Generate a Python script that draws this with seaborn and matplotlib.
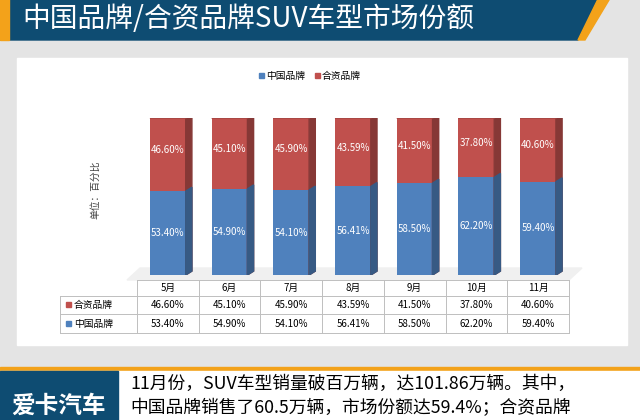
import matplotlib
matplotlib.use("Agg")
import matplotlib.pyplot as plt
import seaborn as sns
import numpy as np
import pandas as pd
from matplotlib.patches import Rectangle, Polygon

plt.rcParams["font.family"] = "Noto Sans CJK SC"

months = ["5月", "6月", "7月", "8月", "9月", "10月", "11月"]
china = [53.40, 54.90, 54.10, 56.41, 58.50, 62.20, 59.40]
joint = [46.60, 45.10, 45.90, 43.59, 41.50, 37.80, 40.60]
china_lbl = ["53.40%", "54.90%", "54.10%", "56.41%", "58.50%", "62.20%", "59.40%"]
joint_lbl = ["46.60%", "45.10%", "45.90%", "43.59%", "41.50%", "37.80%", "40.60%"]
series = ["中国品牌", "合资品牌"]

BLUE, RED = "#4f81bd", "#c0504d"
W, H = 640, 420
fig = plt.figure(figsize=(6.4, 4.2), dpi=100)
fig.patch.set_facecolor("#e4e4e4")

def fx(px): return px / W
def fy(py): return 1 - py / H

bg = fig.add_axes([0, 0, 1, 1]); bg.set_xlim(0, W); bg.set_ylim(H, 0); bg.axis("off")
# banner
bg.add_patch(Polygon([[0, -5], [600, -5], [578, 40], [0, 40]], color="#0e4c72"))
bg.add_patch(Polygon([[600, -5], [612, -5], [585, 40], [578, 40]], color="#f3a21a"))
bg.add_patch(Rectangle((0, -5), 9, 45, color="#f3a21a"))
bg.text(22, 19, "中国品牌/合资品牌SUV车型市场份额", color="white", fontsize=20, va="center")
# white panel
bg.add_patch(Rectangle((17, 58), 610, 287, color="white"))
# bottom
bg.add_patch(Rectangle((0, 367), W, 4, color="#f3a21a"))
bg.add_patch(Rectangle((0, 371), W, 50, color="white"))
bg.add_patch(Rectangle((0, 371), 118, 50, color="#0e4c72"))
bg.text(58, 406, "爱卡汽车", color="white", fontsize=17, weight="bold", ha="center", va="center")
bg.text(130, 384, "11月份，SUV车型销量破百万辆，达101.86万辆。其中，", fontsize=12.8, va="center")
bg.text(130, 408, "中国品牌销售了60.5万辆，市场份额达59.4%；合资品牌", fontsize=12.8, va="center")
# legend
bg.add_patch(Rectangle((259, 73), 5, 5, color=BLUE))
bg.text(266, 76, "中国品牌", fontsize=7, va="center")
bg.add_patch(Rectangle((315, 73), 5, 5, color=RED))
bg.text(322, 76, "合资品牌", fontsize=7, va="center")
bg.text(95, 190, "单位：百分比", fontsize=7, rotation=90, va="center", ha="center", color="#404040")
# floor
bg.add_patch(Polygon([[127, 280], [569, 280], [582, 268], [140, 268]], color="#f0f0f0"))

# table
x0, cw = 137, 61.7
rows_y = [280, 296, 314, 333]
for y in rows_y:
    bg.plot([x0 if y == 280 else 60, x0 + 7 * cw], [y, y], color="#bfbfbf", lw=0.7)
for i in range(8):
    bg.plot([x0 + i * cw] * 2, [280, 333], color="#bfbfbf", lw=0.7)
bg.plot([60, 60], [296, 333], color="#bfbfbf", lw=0.7)
for i, m in enumerate(months):
    cx = x0 + (i + 0.5) * cw
    bg.text(cx, 288, m, fontsize=7, ha="center", va="center")
    bg.text(cx, 305, joint_lbl[i], fontsize=7, ha="center", va="center")
    bg.text(cx, 324, china_lbl[i], fontsize=7, ha="center", va="center")
bg.add_patch(Rectangle((66, 302), 5, 5, color=RED))
bg.text(74, 305, "合资品牌", fontsize=7, va="center")
bg.add_patch(Rectangle((66, 321), 5, 5, color=BLUE))
bg.text(74, 324, "中国品牌", fontsize=7, va="center")

# chart
ax = fig.add_axes([fx(x0), fy(275), fx(7 * cw), 157 / H])
df = pd.DataFrame({"month": months, "china": china, "total": np.array(china) + np.array(joint)})
sns.barplot(data=df, x="month", y="total", color=RED, saturation=1, width=0.58, ax=ax)
sns.barplot(data=df, x="month", y="china", color=BLUE, saturation=1, width=0.58, ax=ax)
ax.set_xlim(-0.5, 6.5); ax.set_ylim(0, 100)
ax.axis("off")
# pseudo 3D faces
dx, dy = 0.1, 2.5
for p in ax.patches[:]:
    x, y, w, h = p.get_x(), p.get_y(), p.get_width(), p.get_height()
    c = np.array(matplotlib.colors.to_rgb(p.get_facecolor()))
    ax.add_patch(Polygon([[x + w, y], [x + w + dx, y + dy], [x + w + dx, y + h + dy], [x + w, y + h]],
                         color=c * 0.7, zorder=1))
    if p.get_facecolor()[0] > 0.6:
        ax.add_patch(Polygon([[x, y + h], [x + dx, y + h + dy], [x + w + dx, y + h + dy], [x + w, y + h]],
                             color=c * 0.85, zorder=1))
for i in range(7):
    ax.text(i, china[i] / 2, china_lbl[i], color="white", fontsize=7, ha="center", va="center")
    ax.text(i, china[i] + joint[i] / 2 + 3, joint_lbl[i], color="white", fontsize=7, ha="center", va="center")

fig.savefig("out.png", dpi=100)
